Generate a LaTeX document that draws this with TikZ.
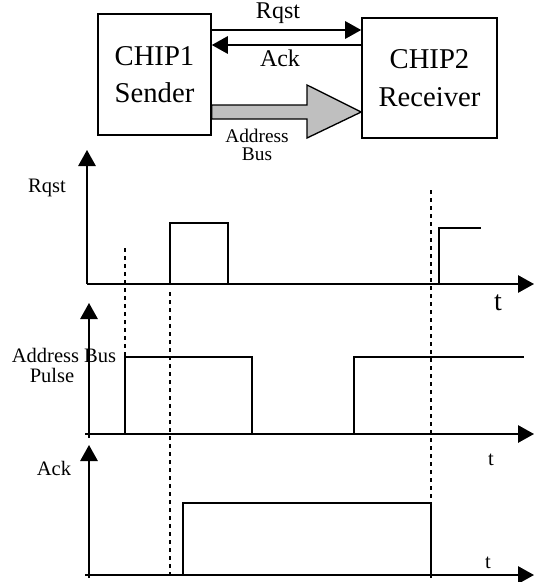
\documentclass[tikz,border=0pt]{standalone}
\usepackage{fontspec}
\setmainfont{Liberation Serif}
\usetikzlibrary{arrows.meta}

\begin{document}
\begin{tikzpicture}[x=0.75pt, y=-0.75pt, >={Triangle[length=12pt, width=13pt]}, line width=1.4pt,
  chip/.style={draw, line width=1.2pt, align=center, inner sep=0pt, font=\fontsize{21.5}{28}\selectfont},
  toplbl/.style={font=\fontsize{18}{18}\selectfont},
  lbl/.style={font=\fontsize{15.4}{15}\selectfont},
  guide/.style={line width=1pt, dash pattern=on 3pt off 3pt},
  sig/.style={line width=1.5pt}]
  \useasboundingbox (0,0) rectangle (540,582);
  % chips
  \node[chip, minimum width=84.75pt, minimum height=90.75pt] (chipA) at (154.5,74.5) {CHIP1\\Sender};
  \node[chip, minimum width=101.25pt, minimum height=90pt] (chipB) at (429.5,78) {CHIP2\\Receiver};
  % handshake lines
  \draw[->] (chipA.east |- 0,30) -- (chipB.west |- 0,30);
  \node[toplbl] (rqstTop) at (278,13) {Rqst};
  \draw[->] (chipB.west |- 0,45) -- (chipA.east |- 0,45);
  \node[toplbl] (ackTop) at (280,58) {Ack};
  % address bus
  \draw[line width=1pt, fill=black!25] (chipA.east |- 0,105) -- (307,105) -- (307,85) -- (chipB.west |- 0,112)
    -- (307,138) -- (307,119) -- (chipA.east |- 0,119) -- cycle;
  \node[lbl, align=center, font=\fontsize{14.5}{13}\selectfont] (busTop) at (257,145) {Address\\Bus};
  % rqst signal
  \draw[->] (87,284) -- (87,150);
  \draw[->] (87,284) -- (534,284);
  \node[lbl] (rqstSig) at (47,188) {Rqst};
  \node[font=\fontsize{21}{21}\selectfont] (tRqst) at (498,303) {t};
  \draw[sig] (170,284) -- (170,223) -- (228,223) -- (228,284);
  \draw[sig] (439,284) -- (439,228) -- (481,228);
  % address bus signal
  \draw[->] (89,438) -- (89,303);
  \draw[->] (85,434) -- (534,434);
  \node[lbl] (busSig) at (64,355) {Address Bus};
  \node[lbl] (pulseSig) at (52,375) {Pulse};
  \node[lbl] (tBus) at (491,460) {t};
  \draw[sig] (125,434) -- (125,357) -- (252,357) -- (252,434);
  \draw[sig] (354,434) -- (354,357) -- (524,357);
  % ack signal
  \draw[->] (89,578) -- (89,445);
  \draw[->] (85,575) -- (534,575);
  \node[lbl] (ackSig) at (54,468) {Ack};
  \node[lbl] (tAck) at (488,563) {t};
  \draw[sig] (183,575) -- (183,503) -- (431,503) -- (431,575);
  % guides
  \draw[guide] (125,248) -- (125,357);
  \draw[guide] (170,292) -- (170,575);
  \draw[guide] (431,190) -- (431,582);
\end{tikzpicture}
\end{document}
